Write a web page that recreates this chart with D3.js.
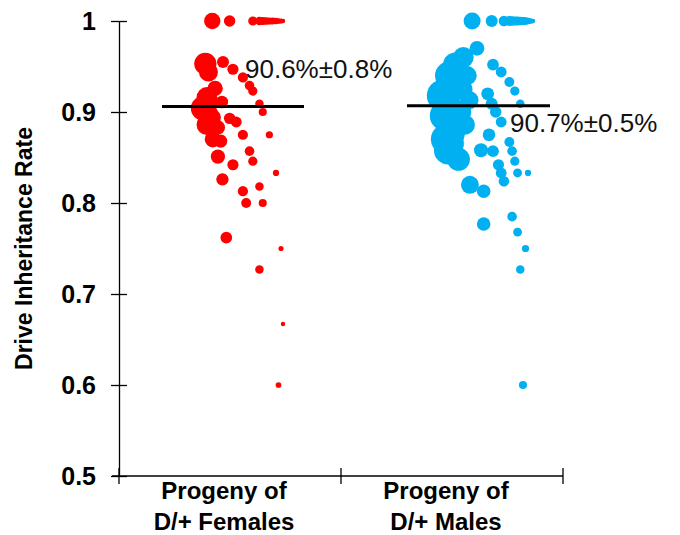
<!DOCTYPE html>
<meta charset="utf-8">
<style>
body { margin: 0; background: #fff; }
svg { font-family: Arial, "Liberation Sans", sans-serif; }
.axis path, .axis line { stroke: #000; stroke-width: 1.3px; }
</style>
<body>
<script src="https://cdn.jsdelivr.net/npm/d3@7"></script>
<script>
var groups = ["Females", "Males"];
var groupLabels = [["Progeny of", "D/+ Females"], ["Progeny of", "D/+ Males"]];
var colors = ["#ff0000", "#00b0f0"];
var meanRate = [0.906, 0.907];
var meanText = ["90.6%\u00b10.8%", "90.7%\u00b10.5%"];
var yTicks = [0.5, 0.6, 0.7, 0.8, 0.9, 1];

// drive inheritance rate per parent and number of progeny scored
var femaleRate = [1, 1, 1, 1, 1, 1, 1, 1, 1, 1, 1, 1,
  0.955, 0.947, 0.938, 0.929, 0.923, 0.909, 0.9, 0.875,
  0.953, 0.944, 0.926, 0.916, 0.904, 0.911, 0.894, 0.886, 0.883, 0.893,
  0.889, 0.875, 0.87, 0.868, 0.857, 0.846, 0.851, 0.842, 0.833, 0.826,
  0.818, 0.813, 0.8, 0.8, 0.762, 0.75, 0.727, 0.667, 0.6,
  0.91, 0.898];
var femaleN = [41, 20, 13, 11, 10, 9, 8, 7, 6, 5, 4, 3,
  22, 19, 16, 14, 13, 11, 10, 8,
  75, 55, 36, 65, 90, 24, 40, 65, 31, 20,
  18, 16, 40, 26, 14, 13, 31, 19, 6, 23,
  11, 16, 15, 10, 21, 4, 11, 3, 5,
  45, 50];

var maleRate = [1, 1, 1, 1, 1, 1, 1, 1, 1, 1, 1, 1, 1, 1, 1, 1,
  0.97, 0.952, 0.944, 0.933, 0.923, 0.909,
  0.92, 0.909, 0.9, 0.889, 0.867, 0.857, 0.846, 0.833,
  0.875, 0.857, 0.842, 0.833, 0.824, 0.833,
  0.858, 0.82, 0.813, 0.777, 0.785, 0.768, 0.75, 0.727, 0.6,
  0.918, 0.896, 0.858, 0.876, 0.94, 0.96, 0.94, 0.913, 0.886, 0.848,
  0.93, 0.905, 0.87, 0.952, 0.89, 0.865, 0.925, 0.9];
var maleN = [44, 22, 17, 15, 14, 13, 12, 11, 10, 9, 8, 7, 6, 5, 4, 3,
  33, 21, 18, 15, 13, 11,
  25, 22, 20, 18, 15, 14, 13, 12,
  24, 21, 19, 18, 17, 6,
  30, 49, 28, 28, 14, 12, 8, 11, 10,
  160, 145, 125, 100, 120, 65, 55, 50, 60, 80,
  110, 130, 140, 90, 90, 110, 70, 75];

var rates = [femaleRate, maleRate];
var counts = [femaleN, maleN];

var width = 680, height = 535;
var svg = d3.select("body").append("svg")
    .attr("width", width)
    .attr("height", height);

var x = d3.scaleBand().domain(groups).range([119, 563]);
var y = d3.scaleLinear().domain([0.5, 1]).range([476, 21]);
var r = d3.scaleSqrt().domain([0, 100]).range([0, 12.8]);

// dots spread sideways by brood size (px from the start of each band)
var spread = [
  d3.scaleLinear().domain([3, 4, 6, 22, 45, 90]).range([164, 162, 157, 104, 91, 84]).clamp(true),
  d3.scaleLinear().domain([3, 6, 10, 21, 33, 60, 100, 160]).range([192, 187, 182, 152, 136, 124, 111, 102]).clamp(true)
];

// dots
groups.forEach(function(g, gi) {
  var pts = rates[gi].map(function(v, i) { return {v: v, n: counts[gi][i]}; });
  pts.sort(function(a, b) { return b.n - a.n; });
  svg.append("g")
    .selectAll("circle")
    .data(pts)
    .enter().append("circle")
      .attr("cx", function(d) { return x(g) + spread[gi](d.n); })
      .attr("cy", function(d) { return y(d.v); })
      .attr("r", function(d) { return r(d.n); })
      .style("fill", colors[gi]);
});

// mean lines and labels
var meanSpan = [[43, 185], [66, 209]];
var textPos = [[126, -29], [169, 26]];
groups.forEach(function(g, gi) {
  svg.append("line")
    .attr("x1", x(g) + meanSpan[gi][0])
    .attr("x2", x(g) + meanSpan[gi][1])
    .attr("y1", y(meanRate[gi]))
    .attr("y2", y(meanRate[gi]))
    .style("stroke", "#000")
    .style("stroke-width", 3);
  svg.append("text")
    .attr("x", x(g) + textPos[gi][0])
    .attr("y", y(meanRate[gi]) + textPos[gi][1])
    .style("font-size", "26px")
    .style("fill", "#111")
    .text(meanText[gi]);
});

// y axis
var yAxis = svg.append("g")
    .attr("class", "axis")
    .attr("transform", "translate(" + x.range()[0] + ",0)")
    .call(d3.axisLeft(y)
      .tickValues(yTicks)
      .tickSizeInner(8)
      .tickSizeOuter(0)
      .tickPadding(15)
      .tickFormat(function(d) { return d === 1 ? "1" : d.toFixed(1); }));
yAxis.selectAll(".tick line").attr("x1", 8);
yAxis.selectAll(".tick text")
    .style("font-size", "25px")
    .style("font-weight", "bold")
    .style("font-family", "Arial, 'Liberation Sans', sans-serif")
    .style("fill", "#000");

svg.append("text")
    .attr("transform", "translate(32," + (y(0.75)) + ") rotate(-90)")
    .attr("text-anchor", "middle")
    .style("font-size", "23px")
    .style("font-weight", "bold")
    .text("Drive Inheritance Rate");

// x axis
var xa = svg.append("g").attr("class", "axis");
xa.append("line")
    .attr("x1", x.range()[0] - 7).attr("x2", x.range()[1])
    .attr("y1", y(0.5)).attr("y2", y(0.5));
var bounds = groups.map(function(g) { return x(g); }).concat([x.range()[1]]);
xa.selectAll(".xt")
  .data(bounds)
  .enter().append("line")
    .attr("x1", function(d) { return d; })
    .attr("x2", function(d) { return d; })
    .attr("y1", y(0.5) - 8)
    .attr("y2", y(0.5) + 8);

groups.forEach(function(g, gi) {
  var t = svg.append("text")
    .attr("text-anchor", "middle")
    .style("font-size", "24px")
    .style("font-weight", "bold");
  groupLabels[gi].forEach(function(line, li) {
    t.append("tspan")
      .attr("x", x(g) + 105)
      .attr("y", 499 + li * 31)
      .text(line);
  });
});
</script>
</body>
